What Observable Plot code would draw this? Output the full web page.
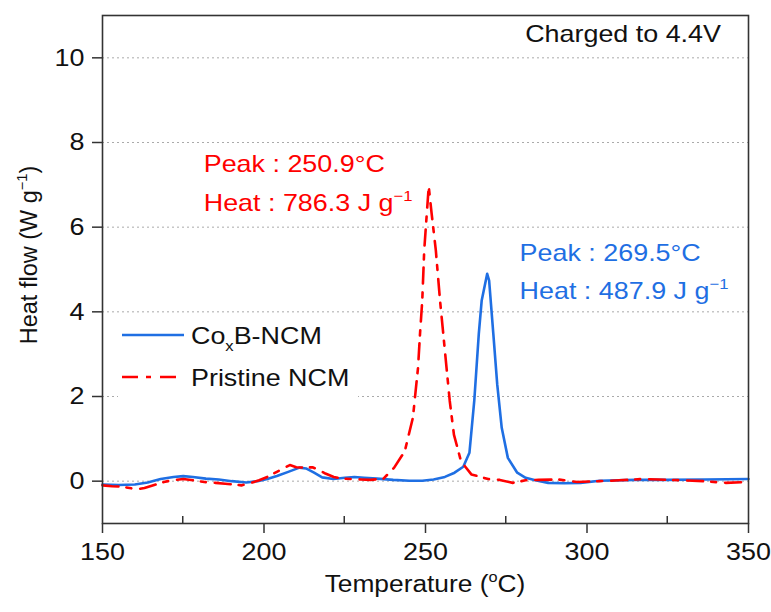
<!DOCTYPE html>
<html>
<head>
<meta charset="utf-8">
<script src="https://cdn.jsdelivr.net/npm/d3@7"></script>
<script src="https://cdn.jsdelivr.net/npm/@observablehq/plot@0.6"></script>
<style>
  html, body { margin: 0; padding: 0; background: #fff; }
  #chart svg { font-family: "Liberation Sans", Arial, sans-serif; }
</style>
</head>
<body>
<div id="chart"></div>
<script>
// ---------- data ----------
const seriesNames = ["CoxB-NCM", "Pristine NCM"];

const blueTemp = [150,155,160,164,168,172,175,178,182,186,190,194.5,198,201,204,207.5,211,213,215.5,218,221.5,225,228,231,235,240,245,249,252.5,256,259,261.7,263.6,265.1,266.5,267.4,269.1,269.7,271.0,272.2,273.6,275.5,278.4,281,284,288,293,298,304,315,325,336.5,350];
const blueFlow = [-0.08,-0.09,-0.08,-0.03,0.05,0.1,0.12,0.1,0.06,0.04,0.0,-0.03,0.0,0.05,0.12,0.22,0.32,0.3,0.2,0.09,0.05,0.08,0.1,0.08,0.06,0.03,0.01,0.01,0.04,0.1,0.2,0.34,0.67,1.9,3.48,4.27,4.9,4.74,3.48,2.29,1.26,0.55,0.2,0.08,0.02,-0.04,-0.05,-0.04,0.01,0.03,0.03,0.04,0.05];

const redTemp = [150,153,156,159,161,163,166,169,171.5,175,178,181.5,185,188,191,193,196,198.5,201,204,206,208,210,212.6,215,216.5,219,221.6,224,226.8,230,233,237,240.3,243.6,246.1,247.7,248.3,249.0,249.6,250.4,251.0,251.9,253.2,254.5,255.5,256.5,257.5,258.8,261.0,264.2,269.4,273,277,281,285,291,297,304,310,317,322,330,336,343,350];
const redFlow = [-0.1,-0.12,-0.13,-0.17,-0.19,-0.16,-0.09,-0.02,0.02,0.05,0.02,-0.02,-0.04,-0.06,-0.08,-0.1,-0.04,0.02,0.1,0.22,0.3,0.38,0.33,0.32,0.33,0.28,0.18,0.1,0.06,0.05,0.04,0.03,0.06,0.32,0.71,1.5,2.69,3.48,4.27,5.45,6.32,6.96,6.32,5.45,4.27,3.48,2.69,1.9,1.1,0.47,0.16,0.05,0.03,-0.04,0.02,0.03,0.04,-0.02,0.0,0.02,0.05,0.04,0.02,0.0,-0.04,-0.02];

const xTicks = [150, 200, 250, 300, 350];
const xMinorTicks = [175, 225, 275, 325];
const yTicks = [0, 2, 4, 6, 8, 10];

const peakLabels = ["Peak : 250.9°C", "Peak : 269.5°C"];
const heatLabels = ["Heat : 786.3 J g", "Heat : 487.9 J g"];
const noteText = "Charged to 4.4V";

// ---------- styles ----------
const BLUE = "#1f6fe3";
const RED = "#ff0000";
const colors = [BLUE, RED];
const dashes = [null, "16,8,5,9"];
const FONT = 24;
const STRETCH = 1.12; // the reference lettering is a little wide

const rows = [
  ...blueTemp.map((t, i) => ({T: t, v: blueFlow[i], s: seriesNames[0]})),
  ...redTemp.map((t, i) => ({T: t, v: redFlow[i], s: seriesNames[1]}))
];

function addRich(textSel, parts, size) {
  parts.forEach(p => {
    const ts = textSel.append("tspan").text(p.t);
    if (p.sup) ts.attr("font-size", size * 0.62).attr("dy", -size * 0.42);
    if (p.sub) ts.attr("font-size", size * 0.62).attr("dy", size * 0.3);
    if (p.back) ts.attr("dy", p.back);
  });
}

// legend (layout in pixels)
function legendMark() {
  const g = d3.create("svg:g").attr("text-anchor", "start");
  g.append("rect").attr("x", 118).attr("y", 316).attr("width", 240).attr("height", 86).attr("fill", "#fff");
  const ys = [335, 377];
  seriesNames.forEach((name, i) => {
    const l = g.append("line").attr("x1", 122).attr("x2", 184).attr("y1", ys[i]).attr("y2", ys[i])
      .attr("stroke", colors[i]).attr("stroke-width", 2.6);
    if (dashes[i]) l.attr("stroke-dasharray", dashes[i]);
    const t = g.append("text").attr("x", 191).attr("y", ys[i] + 9).attr("font-size", FONT).attr("fill", "#111");
    if (i === 0) addRich(t, [{t: "Co"}, {t: "x", sub: true}, {t: "B-NCM", back: -FONT * 0.3}], FONT);
    else t.text(name);
  });
  return g.node();
}

// annotations (anchored in data coordinates)
const annotT = [181.5, 279.3];
const annotPeakV = [7.3, 5.19];
const annotHeatV = [6.38, 4.3];
function annotMark(index, scales) {
  const g = d3.create("svg:g").attr("text-anchor", "start");
  [0, 1].forEach(i => {
    const c = colors[i === 0 ? 1 : 0];
    g.append("text").attr("x", scales.x(annotT[i])).attr("y", scales.y(annotPeakV[i]))
      .attr("font-size", FONT).attr("fill", c).text(peakLabels[i]);
    const t = g.append("text").attr("x", scales.x(annotT[i])).attr("y", scales.y(annotHeatV[i]))
      .attr("font-size", FONT).attr("fill", c);
    addRich(t, [{t: heatLabels[i]}, {t: "−1", sup: true}], FONT);
  });
  return g.node();
}

function labelsMark(index, scales, values, dim) {
  const g = d3.create("svg:g").attr("fill", "#111");
  // note, top right
  g.append("text").attr("x", 721).attr("y", 42).attr("text-anchor", "end").attr("font-size", FONT).text(noteText);
  // x label
  const xl = g.append("text").attr("x", (dim.marginLeft + dim.width - dim.marginRight) / 2).attr("y", 592)
    .attr("text-anchor", "middle").attr("font-size", FONT - 0.5);
  addRich(xl, [{t: "Temperature ("}, {t: "o", sup: true}, {t: "C)", back: (FONT - 0.5) * 0.42}], FONT - 0.5);
  // y label (not stretched: it runs vertically)
  const yl = g.append("text").attr("class", "nostretch").attr("transform", "translate(37,255) rotate(-90)")
    .attr("text-anchor", "middle").attr("font-size", FONT - 0.5);
  addRich(yl, [{t: "Heat flow (W g"}, {t: "−1", sup: true}, {t: ")", back: (FONT - 0.5) * 0.42}], FONT - 0.5);
  // minor x ticks (inward)
  const yb = dim.height - dim.marginBottom;
  xMinorTicks.forEach(v => {
    g.append("line").attr("x1", scales.x(v)).attr("x2", scales.x(v)).attr("y1", yb).attr("y2", yb - 7)
      .attr("stroke", "#333").attr("stroke-width", 1.5);
  });
  return g.node();
}

const chart = Plot.plot({
  width: 771,
  height: 612,
  marginLeft: 102,
  marginRight: 23,
  marginTop: 15,
  marginBottom: 89,
  x: {domain: [150, 350]},
  y: {domain: [-1, 11]},
  style: {fontFamily: "'Liberation Sans', Arial, sans-serif", fontSize: FONT + "px", color: "#111", background: "#fff"},
  marks: [
    Plot.gridY(yTicks, {stroke: "#aaaaaa", strokeOpacity: 1, strokeWidth: 1, strokeDasharray: "2,3"}),
    legendMark,
    Plot.line(rows.filter(d => d.s === seriesNames[0]), {x: "T", y: "v", stroke: BLUE, strokeWidth: 2.6}),
    Plot.line(rows.filter(d => d.s === seriesNames[1]), {x: "T", y: "v", stroke: RED, strokeWidth: 2.6, strokeDasharray: dashes[1]}),
    Plot.frame({stroke: "#333", strokeWidth: 1.6}),
    Plot.axisY(yTicks, {tickSize: 10, tickPadding: 8, label: null, fontSize: FONT, stroke: "#333", strokeWidth: 1.5}),
    Plot.axisX(xTicks, {tickSize: 10, tickPadding: 9, label: null, fontSize: FONT, stroke: "#333", strokeWidth: 1.5}),
    annotMark,
    labelsMark
  ]
});
document.getElementById("chart").appendChild(chart);

// widen lettering horizontally to match the reference
d3.select(chart).selectAll("text").each(function () {
  if (this.classList.contains("nostretch")) return;
  const w = this.getComputedTextLength();
  if (w > 0) {
    this.setAttribute("textLength", (w * STRETCH).toFixed(1));
    this.setAttribute("lengthAdjust", "spacingAndGlyphs");
  }
});
</script>
</body>
</html>
